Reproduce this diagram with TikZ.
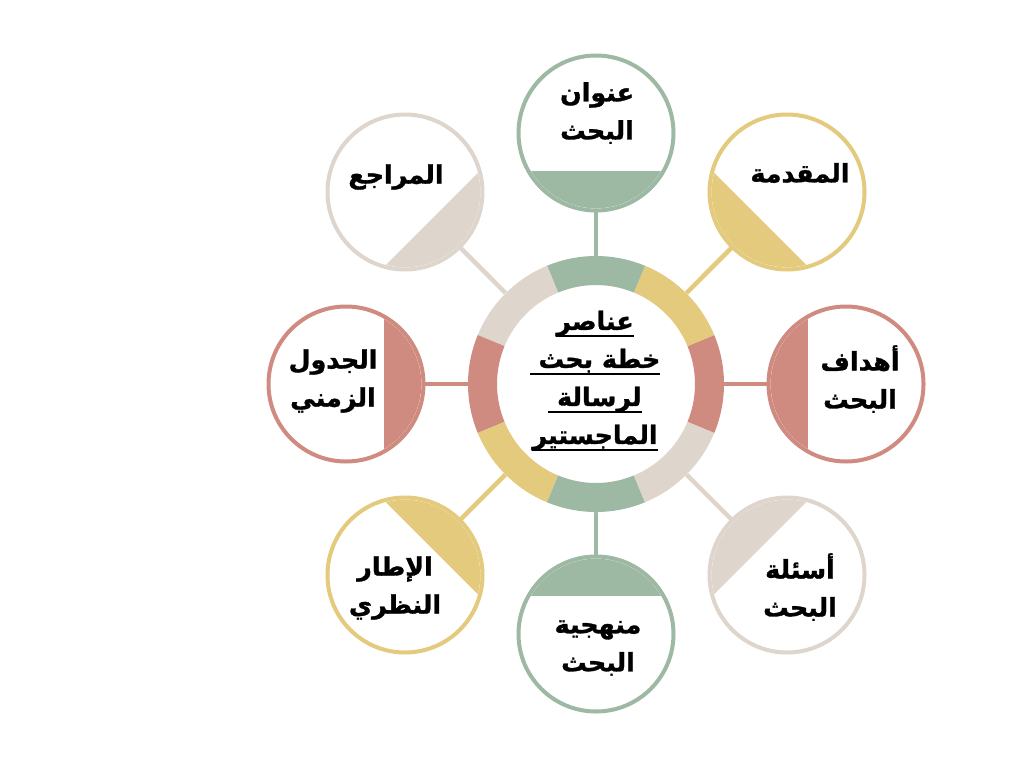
\documentclass[tikz,border=0pt]{standalone}
\usepackage{fontspec}
\TeXXeTstate=1
\newfontfamily\arabicfont[Script=Arabic, BoldFeatures={FakeBold=1.2}]{DejaVu Sans}
\definecolor{cgreen}{HTML}{9DB9A4}
\definecolor{cyellow}{HTML}{E4CA7C}
\definecolor{cred}{HTML}{CF8B80}
\definecolor{cbeige}{HTML}{DED6CD}
\newcommand\ulline[1]{\leavevmode\setbox0\hbox{#1}\rlap{\rule[-5.5pt]{\wd0}{1.5pt}}\box0}
\tikzset{
  sat/.style={circle, draw, line width=3pt, fill=white, minimum size=116.25pt, inner sep=0pt, outer sep=0pt},
  hub/.style={circle, minimum size=192pt, inner sep=0pt, outer sep=0pt},
  conn/.style={line width=3.4pt},
  lbl/.style={font=\arabicfont\bfseries\fontsize{19}{28.5}\selectfont, align=center, inner sep=0pt, text=black},
}
\begin{document}
\begin{tikzpicture}[x=0.75pt, y=-0.75pt]
\fill[white] (0,0) rectangle (1024,768);
\useasboundingbox (0,0) rectangle (1024,768);
% hub node
\node[hub] (c) at (596,384) {};
% satellites: name/x/y/visual angle/color
\foreach \n/\x/\y/\v/\col in {
  sR/846/384/0/cred, sTR/787/192/45/cyellow, sT/596/133/90/cgreen,
  sTL/405/192/135/cbeige, sL/346/384/180/cred, sBL/405/575/225/cyellow,
  sB/596/634/270/cgreen, sBR/787/575/315/cbeige}{
  \draw[conn, \col] (c) -- (\x,\y);
}
\foreach \n/\x/\y/\v/\col in {
  sR/846/384/0/cred, sTR/787/192/45/cyellow, sT/596/133/90/cgreen,
  sTL/405/192/135/cbeige, sL/346/384/180/cred, sBL/405/575/225/cyellow,
  sB/596/634/270/cgreen, sBR/787/575/315/cbeige}{
  \node[sat, draw=\col] (\n) at (\x,\y) {};
  \begin{scope}[shift={(\x,\y)}, rotate=\v]
    \clip (0,0) circle[radius=75.3];
    \fill[\col] (-90,-90) rectangle (-38,90);
  \end{scope}
}
% ring segments
\begin{scope}[shift={(596,384)}]
  \fill[white] (0,0) circle[radius=128];
  \foreach \v/\col in {0/cred,45/cyellow,90/cgreen,135/cbeige,180/cred,225/cyellow,270/cgreen,315/cbeige}{
    \pgfmathsetmacro{\aa}{-\v-22.5}
    \pgfmathsetmacro{\ab}{-\v+22.5}
    \fill[\col] (\aa:128) arc[start angle=\aa, end angle=\ab, radius=128]
      -- (\ab:99) arc[start angle=\ab, end angle=\aa, radius=99] -- cycle;
  }
\end{scope}
% labels
\node[lbl] (tc) at (595,381) {\ulline{\beginR عناصر\endR}\\\ulline{\beginR خطة بحث \endR}\\\ulline{\beginR لرسالة \endR}\\\ulline{\beginR الماجستير\endR}};
\node[lbl] (tT) at (597,113) {\beginR عنوان\endR\\\beginR البحث\endR};
\node[lbl] (tTR) at (800,173) {\beginR المقدمة\endR};
\node[lbl] (tR) at (860,379) {\beginR أهداف\endR\\\beginR البحث\endR};
\node[lbl] (tBR) at (800,587) {\beginR أسئلة\endR\\\beginR البحث\endR};
\node[lbl] (tB) at (598,648) {\beginR منهجية\endR\\\beginR البحث\endR};
\node[lbl] (tBL) at (395,588) {\beginR الإطار\endR\\\beginR النظري\endR};
\node[lbl] (tL) at (333,381) {\beginR الجدول\endR\\\beginR الزمني\endR};
\node[lbl] (tTL) at (396,177) {\beginR المراجع\endR};
\end{tikzpicture}
\end{document}
